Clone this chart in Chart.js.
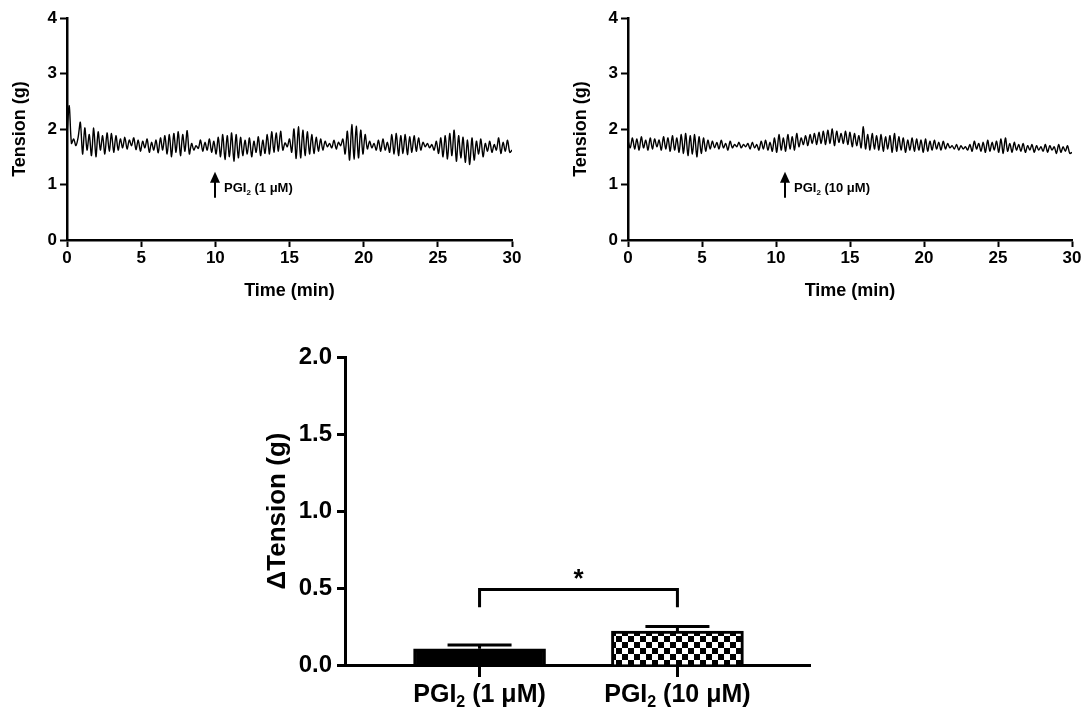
<!DOCTYPE html>
<html>
<head>
<meta charset="utf-8">
<script src="https://cdn.jsdelivr.net/npm/chart.js@4.4.1/dist/chart.umd.min.js"></script>
<style>
  html, body { margin: 0; padding: 0; background: #fff; }
  body { width: 1085px; height: 716px; position: relative; overflow: hidden; }
  canvas { position: absolute; }
</style>
</head>
<body>
<canvas id="traceLow" width="540" height="310" style="left:0;top:0"></canvas>
<canvas id="traceHigh" width="524" height="310" style="left:561px;top:0"></canvas>
<canvas id="deltaBars" width="580" height="386" style="left:250px;top:330px"></canvas>
<script>
// tension recordings (g), sampled evenly over 0-30 min
const traceDuration = 30;
const traceLowDose = [
  1.90, 2.42, 1.74, 1.82, 1.70, 1.85, 2.12, 1.55, 2.02, 1.62, 1.90,
  1.52, 2.02, 1.50, 1.95, 1.62, 1.88, 1.55, 1.93, 1.60, 1.92,
  1.58, 1.88, 1.62, 1.82, 1.66, 1.85, 1.64, 1.80, 1.70, 1.84,
  1.63, 1.80, 1.60, 1.78, 1.66, 1.82, 1.58, 1.76, 1.62, 1.80,
  1.57, 1.84, 1.62, 1.88, 1.55, 1.90, 1.50, 1.92, 1.58, 1.95,
  1.52, 1.90, 1.60, 1.97, 1.55, 1.74, 1.62, 1.70, 1.65, 1.80,
  1.60, 1.76, 1.62, 1.82, 1.58, 1.78, 1.55, 1.85, 1.50, 1.90,
  1.45, 1.88, 1.50, 1.93, 1.42, 1.90, 1.48, 1.85, 1.52, 1.80,
  1.55, 1.84, 1.50, 1.78, 1.58, 1.86, 1.52, 1.80, 1.56, 1.90,
  1.55, 1.95, 1.58, 1.93, 1.60, 1.96, 1.62, 1.75, 1.68, 1.82,
  1.58, 2.00, 1.47, 2.04, 1.48, 1.98, 1.52, 1.95, 1.55, 1.90,
  1.56, 1.85, 1.60, 1.82, 1.62, 1.78, 1.68, 1.74, 1.66, 1.80,
  1.64, 1.76, 1.70, 1.82, 1.55, 1.96, 1.44, 2.08, 1.46, 2.05,
  1.48, 1.98, 1.55, 1.90, 1.64, 1.78, 1.66, 1.74, 1.62, 1.80,
  1.60, 1.82, 1.62, 1.76, 1.58, 1.90, 1.55, 1.92, 1.52, 1.88,
  1.56, 1.90, 1.54, 1.86, 1.58, 1.88, 1.60, 1.84, 1.62, 1.76,
  1.68, 1.74, 1.66, 1.72, 1.62, 1.78, 1.56, 1.84, 1.50, 1.88,
  1.46, 1.92, 1.52, 1.98, 1.42, 1.88, 1.48, 1.85, 1.40, 1.80,
  1.36, 1.84, 1.44, 1.78, 1.55, 1.82, 1.50, 1.74, 1.60, 1.78,
  1.58, 1.72, 1.62, 1.84, 1.56, 1.76, 1.60, 1.80, 1.58, 1.62
];
const traceHighDose = [
  1.80, 1.66, 1.84, 1.64, 1.82, 1.62, 1.86, 1.66, 1.80, 1.62, 1.84,
  1.64, 1.82, 1.68, 1.80, 1.62, 1.86, 1.64, 1.84, 1.60, 1.88,
  1.62, 1.84, 1.58, 1.90, 1.56, 1.92, 1.52, 1.88, 1.55, 1.90,
  1.50, 1.86, 1.56, 1.84, 1.60, 1.80, 1.64, 1.78, 1.66, 1.76,
  1.64, 1.80, 1.66, 1.74, 1.62, 1.78, 1.66, 1.72, 1.68, 1.76,
  1.66, 1.72, 1.68, 1.74, 1.64, 1.76, 1.66, 1.72, 1.62, 1.78,
  1.64, 1.80, 1.62, 1.76, 1.60, 1.84, 1.58, 1.90, 1.62, 1.84,
  1.60, 1.90, 1.64, 1.86, 1.62, 1.92, 1.68, 1.84, 1.72, 1.88,
  1.70, 1.90, 1.74, 1.92, 1.72, 1.94, 1.74, 1.96, 1.72, 1.98,
  1.74, 2.00, 1.70, 1.96, 1.76, 1.92, 1.74, 1.96, 1.72, 1.94,
  1.68, 1.92, 1.70, 1.88, 1.66, 2.04, 1.64, 1.90, 1.62, 1.92,
  1.64, 1.88, 1.62, 1.90, 1.60, 1.86, 1.64, 1.88, 1.58, 1.92,
  1.60, 1.86, 1.62, 1.84, 1.58, 1.80, 1.62, 1.84, 1.60, 1.82,
  1.62, 1.80, 1.58, 1.82, 1.60, 1.78, 1.62, 1.80, 1.64, 1.76,
  1.62, 1.78, 1.64, 1.74, 1.66, 1.70, 1.64, 1.72, 1.62, 1.70,
  1.64, 1.68, 1.62, 1.72, 1.60, 1.78, 1.64, 1.74, 1.60, 1.76,
  1.58, 1.80, 1.60, 1.76, 1.62, 1.78, 1.58, 1.82, 1.56, 1.84,
  1.60, 1.74, 1.58, 1.76, 1.62, 1.72, 1.60, 1.74, 1.58, 1.70,
  1.62, 1.72, 1.58, 1.70, 1.62, 1.68, 1.60, 1.72, 1.58, 1.70,
  1.62, 1.68, 1.56, 1.72, 1.58, 1.68, 1.60, 1.70, 1.56, 1.58
];
// minute at which PGI2 was added in each recording
const doseTimes = [10, 10.6];

// bar summary
const doseLabels = ['1 \u03bcM', '10 \u03bcM'];
const meanChange = [0.105, 0.22];
const semChange = [0.025, 0.03];
const significance = '*';

const FONT = "Arial, 'Liberation Sans', Helvetica, sans-serif";

// "PGI" + subscript 2 + " (dose)"
function drawPgiText(ctx, x, y, dose, size, align) {
  const main = 'PGI', sub = '2', rest = ' (' + dose + ')';
  const subSize = Math.round(size * 0.65);
  ctx.save();
  ctx.fillStyle = '#000';
  ctx.textBaseline = 'alphabetic';
  ctx.textAlign = 'left';
  ctx.font = `bold ${size}px ${FONT}`;
  const wMain = ctx.measureText(main).width;
  const wRest = ctx.measureText(rest).width;
  ctx.font = `bold ${subSize}px ${FONT}`;
  const wSub = ctx.measureText(sub).width;
  const total = wMain + wSub + wRest;
  const left = align === 'center' ? x - total / 2 : x;
  ctx.font = `bold ${size}px ${FONT}`;
  ctx.fillText(main, left, y);
  ctx.font = `bold ${subSize}px ${FONT}`;
  ctx.fillText(sub, left + wMain, y + size * 0.18);
  ctx.font = `bold ${size}px ${FONT}`;
  ctx.fillText(rest, left + wMain + wSub, y);
  ctx.restore();
}

function toPoints(values) {
  return values.map((v, i) => ({ x: i * traceDuration / (values.length - 1), y: v }));
}

function makeTraceChart(canvasId, values, doseTime, dose, rightPad) {
  const arrowPlugin = {
    id: 'doseArrow',
    afterDraw(chart) {
      const { ctx, scales: { x, y } } = chart;
      const ax = Math.round(x.getPixelForValue(doseTime));
      const yBottom = y.getPixelForValue(0.76);
      const yTop = y.getPixelForValue(1.23);
      ctx.save();
      ctx.strokeStyle = '#000';
      ctx.fillStyle = '#000';
      ctx.lineWidth = 2;
      ctx.beginPath();
      ctx.moveTo(ax, yBottom);
      ctx.lineTo(ax, yTop + 8);
      ctx.stroke();
      ctx.beginPath();
      ctx.moveTo(ax, yTop);
      ctx.lineTo(ax - 5, yTop + 11);
      ctx.lineTo(ax + 5, yTop + 11);
      ctx.closePath();
      ctx.fill();
      ctx.restore();
      drawPgiText(ctx, ax + 9, y.getPixelForValue(0.86), dose, 13, 'left');
    }
  };

  return new Chart(document.getElementById(canvasId), {
    type: 'line',
    data: {
      datasets: [{
        data: toPoints(values),
        borderColor: '#000',
        borderWidth: 1.4,
        pointRadius: 0,
        tension: 0.3
      }]
    },
    options: {
      responsive: false,
      animation: false,
      layout: { padding: { top: 18, right: rightPad, bottom: 0, left: 0 } },
      plugins: { legend: { display: false }, tooltip: { enabled: false } },
      scales: {
        x: {
          type: 'linear',
          min: 0,
          max: traceDuration,
          afterFit(scale) { scale.height = 70; },
          ticks: { stepSize: 5, padding: 1, color: '#000', font: { family: FONT, size: 17, weight: 'bold' } },
          grid: { drawOnChartArea: false, drawTicks: true, tickLength: 7, tickWidth: 2, color: '#000' },
          border: { display: true, color: '#000', width: 2.5 },
          title: {
            display: true, text: 'Time (min)', color: '#000',
            font: { family: FONT, size: 18, weight: 'bold' },
            padding: { top: 0, bottom: 8 }
          }
        },
        y: {
          min: 0,
          max: 4,
          afterFit(scale) { scale.width = 67; },
          ticks: { stepSize: 1, padding: 3, color: '#000', font: { family: FONT, size: 17, weight: 'bold' } },
          grid: { drawOnChartArea: false, drawTicks: true, tickLength: 7, tickWidth: 2, color: '#000' },
          border: { display: true, color: '#000', width: 2.5 },
          title: {
            display: true, text: 'Tension (g)', color: '#000',
            font: { family: FONT, size: 18, weight: 'bold' },
            padding: { top: 9, bottom: 0 }
          }
        }
      }
    },
    plugins: [arrowPlugin]
  });
}

makeTraceChart('traceLow', traceLowDose, doseTimes[0], doseLabels[0], 28);
makeTraceChart('traceHigh', traceHighDose, doseTimes[1], doseLabels[1], 13);

// checkerboard fill for the 10 uM bar
function checkerPattern(ctx) {
  const tile = document.createElement('canvas');
  tile.width = 12;
  tile.height = 12;
  const t = tile.getContext('2d');
  t.fillStyle = '#fff';
  t.fillRect(0, 0, 12, 12);
  t.fillStyle = '#000';
  t.fillRect(0, 0, 6, 6);
  t.fillRect(6, 6, 6, 6);
  return ctx.createPattern(tile, 'repeat');
}

const barCanvas = document.getElementById('deltaBars');
const barCtx = barCanvas.getContext('2d');

const summaryPlugin = {
  id: 'summaryMarks',
  afterDatasetsDraw(chart) {
    const { ctx, scales: { x, y } } = chart;
    ctx.save();
    ctx.strokeStyle = '#000';
    ctx.lineWidth = 3;
    // error bars (upper only)
    meanChange.forEach((m, i) => {
      const cx = x.getPixelForValue(i + 1);
      const yMean = y.getPixelForValue(m);
      const yErr = y.getPixelForValue(m + semChange[i]);
      ctx.beginPath();
      ctx.moveTo(cx, yMean);
      ctx.lineTo(cx, yErr);
      ctx.moveTo(cx - 32, yErr);
      ctx.lineTo(cx + 32, yErr);
      ctx.stroke();
    });
    // significance bracket
    const x1 = x.getPixelForValue(1), x2 = x.getPixelForValue(2);
    const yBar = y.getPixelForValue(0.49), yLeg = y.getPixelForValue(0.375);
    ctx.beginPath();
    ctx.moveTo(x1, yLeg);
    ctx.lineTo(x1, yBar);
    ctx.lineTo(x2, yBar);
    ctx.lineTo(x2, yLeg);
    ctx.stroke();
    ctx.fillStyle = '#000';
    ctx.font = `bold 26px ${FONT}`;
    ctx.textAlign = 'center';
    ctx.textBaseline = 'middle';
    ctx.fillText(significance, (x1 + x2) / 2, y.getPixelForValue(0.55));
    ctx.restore();
    // category labels with subscript
    doseLabels.forEach((d, i) => {
      drawPgiText(ctx, x.getPixelForValue(i + 1), y.bottom + 37, d, 25, 'center');
    });
  }
};

new Chart(barCanvas, {
  type: 'bar',
  data: {
    datasets: [{
      data: meanChange.map((m, i) => ({ x: i + 1, y: m })),
      backgroundColor: ['#000', checkerPattern(barCtx)],
      borderColor: '#000',
      borderWidth: 3,
      barThickness: 132
    }]
  },
  options: {
    responsive: false,
    animation: false,
    layout: { padding: { top: 27, right: 20, bottom: 0, left: 0 } },
    plugins: { legend: { display: false }, tooltip: { enabled: false } },
    scales: {
      x: {
        type: 'linear',
        min: 0.32,
        max: 2.67,
        offset: false,
        afterFit(scale) { scale.height = 51; },
        afterBuildTicks(scale) { scale.ticks = doseLabels.map((_, i) => ({ value: i + 1 })); },
        ticks: { callback: () => '', font: { size: 1 } },
        grid: { offset: false, drawOnChartArea: false, drawTicks: true, tickLength: 12, tickWidth: 3, color: '#000' },
        border: { display: true, color: '#000', width: 3 }
      },
      y: {
        min: 0,
        max: 2,
        afterFit(scale) { scale.width = 95; },
        ticks: {
          stepSize: 0.5, padding: 5, color: '#000',
          font: { family: FONT, size: 24, weight: 'bold' },
          callback: v => v.toFixed(1)
        },
        grid: { drawOnChartArea: false, drawTicks: true, tickLength: 8, tickWidth: 3, color: '#000' },
        border: { display: true, color: '#000', width: 3 },
        title: {
          display: true, text: '\u0394Tension (g)', color: '#000',
          font: { family: FONT, size: 26, weight: 'bold' },
          padding: { top: 12, bottom: 0 }
        }
      }
    }
  },
  plugins: [summaryPlugin]
});
</script>
</body>
</html>
